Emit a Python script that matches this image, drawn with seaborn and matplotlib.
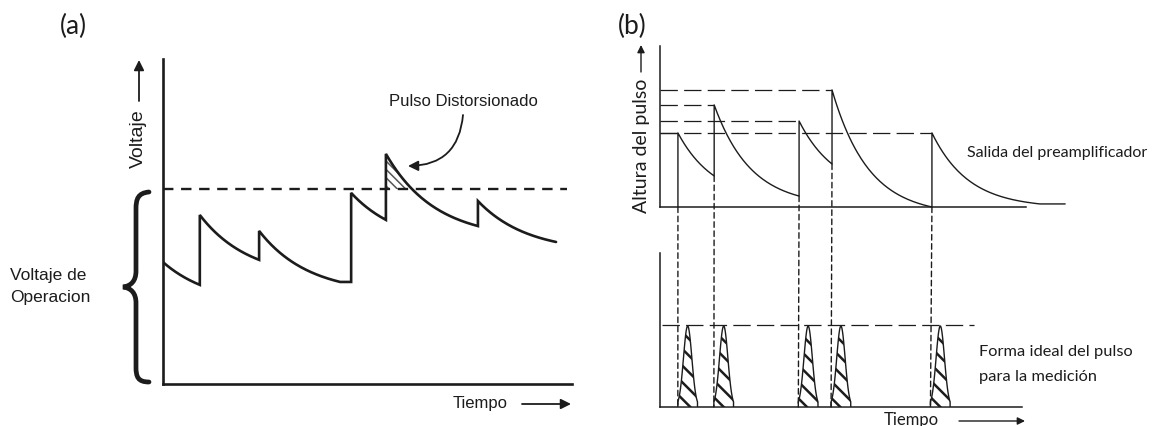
import numpy as np
import pandas as pd
import matplotlib
matplotlib.use("Agg")
import matplotlib.pyplot as plt
import seaborn as sns
from matplotlib.path import Path
from matplotlib.patches import PathPatch, ConnectionPatch

# ---------------- data ----------------
# panel (a): pile-up of pulses on the detector voltage (time 0-100, voltage 0-100)
a_jump_t = [0.0, 9.0, 23.5, 46.0, 54.5, 77.0]      # pulse arrival times
a_top = [37.5, 52.0, 47.1, 58.8, 70.8, 56.3]       # voltage right after each jump
a_seg_end = [9.0, 23.5, 43.3, 54.5, 77.0, 96.1]    # end of each decay
a_trough = [30.5, 38.2, 31.4, 50.5, 48.6, 43.7]    # voltage at end of each decay
a_threshold = 60.0                                  # operating voltage limit
a_tau = 12.0

# panel (b): preamplifier output and ideal shaped pulses
b_t = [4.9, 14.8, 38.0, 47.0, 74.3]                # pulse arrival times
b_top = [46.0, 63.4, 53.4, 72.7, 46.0]             # pulse heights (upper plot)
b_trough = [19.3, 6.8, 26.7, 0.0, 1.9]             # height reached before next pulse
b_tail_end = [103.8, 110.7]                         # end of last decay / flat tail
b_tau = 10.0
b_ideal_peak = 52.6                                 # ideal shaped pulse height
b_ideal_level = 53.2

W, H = 1153, 427
sns.set_theme(style="white")
plt.rcParams["font.family"] = ["Liberation Sans", "DejaVu Sans"]
plt.rcParams["lines.scale_dashes"] = False

INK = "#1c1c1c"

fig = plt.figure(figsize=(W / 100, H / 100), dpi=100)
fig.patch.set_facecolor("white")


def px_axes(l, t, r, b):
    return fig.add_axes([l / W, 1 - b / H, (r - l) / W, (b - t) / H])


def style_axes(ax, lw, xb=None):
    ax.set_xlim(0, 100)
    ax.set_ylim(0, 100)
    ax.set_xticks([])
    ax.set_yticks([])
    ax.set_facecolor("none")
    sns.despine(ax=ax)
    for s in ("left", "bottom"):
        ax.spines[s].set_color(INK)
        ax.spines[s].set_linewidth(lw)
    if xb is not None:
        ax.spines["bottom"].set_bounds(0, xb)


def decay(t0, t1, y0, y1, tau, n=80):
    t = np.linspace(t0, t1, n)
    e = np.exp(-(t1 - t0) / tau)
    b = (y1 - y0 * e) / (1 - e)
    return t, b + (y0 - b) * np.exp(-(t - t0) / tau)


# ---------------- panel (a) ----------------
axA = px_axes(163, 60, 572, 385)
style_axes(axA, 1.9)

xs, ys = [], []
prev = None
peak_seg = None
for i in range(len(a_jump_t)):
    if prev is not None:
        xs.append(a_jump_t[i]); ys.append(prev)
    t, y = decay(a_jump_t[i], a_seg_end[i], a_top[i], a_trough[i], a_tau)
    if a_top[i] > a_threshold:
        peak_seg = (t, y)
    xs.extend(t); ys.extend(y)
    prev = a_trough[i]
dfA = pd.DataFrame({"t": xs, "v": ys})
sns.lineplot(data=dfA, x="t", y="v", ax=axA, estimator=None, sort=False,
             color=INK, linewidth=1.9, solid_joinstyle="miter")
axA.plot([0, 98.8], [a_threshold, a_threshold], color=INK, lw=1.7,
         linestyle=(0, (7.5, 5.5)), clip_on=False)
axA.set_xlabel(""); axA.set_ylabel("")

plt.rcParams["hatch.linewidth"] = 1.1
t, y = peak_seg
m = y >= a_threshold
axA.fill_between(t[m], a_threshold, y[m], facecolor="none", edgecolor="#555555",
                 hatch="\\\\\\\\", linewidth=0)

# ---------------- panel (b) ----------------
axU = px_axes(660, 47, 1026, 208)
style_axes(axU, 1.1, 100)
axL = px_axes(660, 254, 1024, 408)
style_axes(axL, 1.1, 99.5)

xs, ys = [], []
prev = 0.0
for i in range(len(b_t)):
    xs.append(b_t[i]); ys.append(prev)
    t1 = b_t[i + 1] if i + 1 < len(b_t) else b_tail_end[0]
    t, y = decay(b_t[i], t1, b_top[i], b_trough[i], b_tau)
    xs.extend(t); ys.extend(y)
    prev = b_trough[i]
xs.append(b_tail_end[1]); ys.append(b_trough[-1])
dfB = pd.DataFrame({"t": xs, "h": ys})
sns.lineplot(data=dfB, x="t", y="h", ax=axU, estimator=None, sort=False,
             color=INK, linewidth=1.0)
for l in axU.lines:
    l.set_clip_on(False)
axU.set_xlabel(""); axU.set_ylabel("")

long_dash = (0, (12.5, 4.5))
for ti, hi in zip(b_t, b_top):
    axU.plot([0, ti], [hi, hi], color=INK, lw=0.9, linestyle=long_dash)

axL.plot([0.5, 86.3], [b_ideal_level, b_ideal_level], color=INK, lw=0.9,
         linestyle=long_dash)

short_dash = (0, (4.0, 2.6))
starts = [0.0] + b_trough[:-1]
for ti, y0 in zip(b_t, starts):
    cp = ConnectionPatch(xyA=(ti, y0), coordsA=axU.transData,
                         xyB=(ti, 0), coordsB=axL.transData,
                         color=INK, lw=1.0, linestyle=short_dash)
    fig.add_artist(cp)

plt.rcParams["hatch.linewidth"] = 1.8
base_w, sig = 5.4, 1.15
for ti in b_t:
    x = np.linspace(ti, ti + base_w, 60)
    c = ti + base_w / 2
    y = b_ideal_peak * np.exp(-0.5 * ((x - c) / sig) ** 2)
    px = np.concatenate([[ti], x, [ti + base_w]])
    py = np.concatenate([[0], y, [0]])
    axL.fill(px, py, facecolor="white", edgecolor=INK, lw=1.0,
             hatch="\\\\", zorder=3)

# ---------------- overlay: labels, arrows, brace ----------------
ov = fig.add_axes([0, 0, 1, 1])
ov.set_xlim(0, W)
ov.set_ylim(H, 0)
ov.axis("off")
ov.set_facecolor("none")

verts = [(149, 193), (138, 194), (136, 200), (136, 210),
         (136, 272),
         (136, 282), (131, 287), (123, 288),
         (131, 289), (136, 294), (136, 304),
         (136, 368),
         (136, 378), (138, 383), (149, 383)]
codes = [Path.MOVETO, Path.CURVE4, Path.CURVE4, Path.CURVE4,
         Path.LINETO,
         Path.CURVE4, Path.CURVE4, Path.CURVE4,
         Path.CURVE4, Path.CURVE4, Path.CURVE4,
         Path.LINETO,
         Path.CURVE4, Path.CURVE4, Path.CURVE4]
ov.add_patch(PathPatch(Path(verts, codes), facecolor="none", edgecolor=INK,
                       lw=3.4, capstyle="round"))

arrow = dict(arrowstyle="-|>", color=INK, lw=1.3, mutation_scale=15,
             shrinkA=0, shrinkB=0)
ov.annotate("", xy=(139, 61), xytext=(139, 102), arrowprops=arrow)
ov.annotate("", xy=(571, 405), xytext=(522, 405), arrowprops=arrow)
ov.annotate("", xy=(408, 167), xytext=(463, 116),
            arrowprops=dict(arrowstyle="-|>", color=INK, lw=1.3,
                            mutation_scale=15, shrinkA=0, shrinkB=0,
                            connectionstyle="arc3,rad=-0.45"))
thin_arrow = dict(arrowstyle="-|>", color=INK, lw=1.0, mutation_scale=11,
                  shrinkA=0, shrinkB=0)
ov.annotate("", xy=(641, 46), xytext=(641, 73), arrowprops=thin_arrow)
ov.annotate("", xy=(1025, 422), xytext=(959, 422), arrowprops=thin_arrow)

cal = ["Lato", "DejaVu Sans"]
ov.text(73, 26, "(a)", fontsize=19, ha="center", va="center", family=cal, color=INK)
ov.text(632, 26, "(b)", fontsize=19, ha="center", va="center", family=cal, color=INK)
ov.text(463, 101, "Pulso Distorsionado", fontsize=12, ha="center", va="center", color=INK)
ov.text(138, 139, "Voltaje", fontsize=14, rotation=90, ha="center", va="center", color=INK)
ov.text(10, 276, "Voltaje de", fontsize=12.5, ha="left", va="center", color=INK)
ov.text(10, 298, "Operacion", fontsize=12.5, ha="left", va="center", color=INK)
ov.text(480, 404, "Tiempo", fontsize=12, ha="center", va="center", color=INK)

ov.text(641, 146, "Altura del pulso", fontsize=14, rotation=90, ha="center",
        va="center", family=cal, color=INK)
ov.text(967, 153, "Salida del preamplificador", fontsize=11.5, ha="left",
        va="center", family=cal, color=INK)
ov.text(979, 352, "Forma ideal del pulso", fontsize=11.8, ha="left", va="center",
        family=cal, color=INK)
ov.text(979, 377, "para la medición", fontsize=11.8, ha="left", va="center",
        family=cal, color=INK)
ov.text(911, 420, "Tiempo", fontsize=12, ha="center", va="center", family=cal,
        color=INK)

fig.savefig("out.png", dpi=100, facecolor="white")
